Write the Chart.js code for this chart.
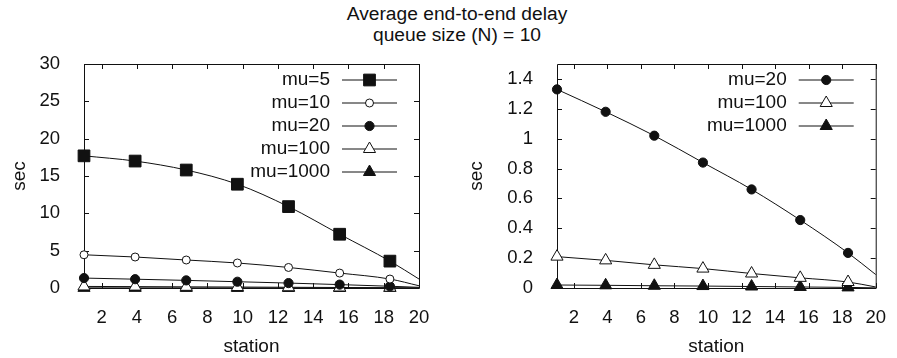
<!DOCTYPE html>
<html>
<head>
<meta charset="utf-8">
<script src="https://cdn.jsdelivr.net/npm/chart.js@4/dist/chart.umd.min.js"></script>
<style>
  html, body { margin: 0; padding: 0; background: #fff; }
  #page { position: relative; width: 897px; height: 358px; overflow: hidden;
          font-family: "Liberation Sans", Arial, sans-serif; color: #111; }
  .title { position: absolute; left: 0; width: 914px; text-align: center;
           font-size: 19.2px; line-height: 22px; white-space: nowrap; }
  #left { position: absolute; left: 0; top: 0; }
  #right { position: absolute; left: 448px; top: 0; }
</style>
</head>
<body>
<div id="page">
  <div class="title" style="top:3px">Average end-to-end delay</div>
  <div class="title" style="top:24px">queue size (N) = 10</div>
  <canvas id="left" width="448" height="358"></canvas>
  <canvas id="right" width="449" height="358"></canvas>
</div>
<script>
  // stations where the curves were sampled (last one has no marker)
  const stations = [1, 3.9, 6.8, 9.7, 12.6, 15.5, 18.35, 20];

  const mu5    = [17.7, 17.0, 15.8, 13.9, 10.9, 7.2, 3.6, 1.2];
  const mu10   = [4.45, 4.15, 3.75, 3.35, 2.75, 2.0, 1.2, 0.3];
  const mu20   = [1.33, 1.18, 1.02, 0.84, 0.66, 0.455, 0.235, 0.09];
  const mu100  = [0.21, 0.185, 0.155, 0.13, 0.097, 0.068, 0.04, 0.007];
  const mu1000 = [0.02, 0.018, 0.015, 0.013, 0.01, 0.007, 0.004, 0.001];

  const xTicks = [2, 4, 6, 8, 10, 12, 14, 16, 18, 20];
  const yTicksLeft = [0, 5, 10, 15, 20, 25, 30];
  const yTicksRight = [0, 0.2, 0.4, 0.6, 0.8, 1, 1.2, 1.4];

  const INK = '#111';
  const FAMILY = '"Liberation Sans", Arial, sans-serif';
  const TICK_FONT = { family: FAMILY, size: 18.5 };
  const LABEL_FONT = { family: FAMILY, size: 19 };

  const styles = {
    mu5:    { pointStyle: 'rect',     pointRadius: 8.3, fill: INK },
    mu10:   { pointStyle: 'circle',   pointRadius: 4,   fill: '#fff' },
    mu20:   { pointStyle: 'circle',   pointRadius: 4.6, fill: INK },
    mu100:  { pointStyle: 'triangle', pointRadius: 7,   fill: '#fff' },
    mu1000: { pointStyle: 'triangle', pointRadius: 7,   fill: INK }
  };

  function series(label, key, values) {
    const st = styles[key];
    return {
      label,
      data: stations.map((x, i) => ({ x, y: values[i] })),
      borderColor: INK,
      borderWidth: 1,
      backgroundColor: st.fill,
      pointStyle: st.pointStyle,
      pointRadius: stations.map((x, i) => (i === stations.length - 1 ? 0 : st.pointRadius)),
      pointBorderWidth: 1,
      pointBorderColor: INK,
      pointBackgroundColor: st.fill,
      cubicInterpolationMode: 'monotone',
      clip: false
    };
  }

  // gnuplot-like frame with inward ticks on all four sides
  const frame = {
    id: 'frame',
    beforeDatasetsDraw(chart) {
      const { ctx, chartArea: a, scales } = chart;
      const len = 5;
      ctx.save();
      ctx.strokeStyle = INK;
      ctx.lineWidth = 1;
      ctx.beginPath();
      ctx.rect(a.left + 0.5, a.top + 0.5, a.right - a.left, a.bottom - a.top);
      scales.x.ticks.forEach(t => {
        const px = Math.round(scales.x.getPixelForValue(t.value)) + 0.5;
        ctx.moveTo(px, a.bottom); ctx.lineTo(px, a.bottom - len);
        ctx.moveTo(px, a.top); ctx.lineTo(px, a.top + len);
      });
      scales.y.ticks.forEach(t => {
        const py = Math.round(scales.y.getPixelForValue(t.value)) + 0.5;
        ctx.moveTo(a.left, py); ctx.lineTo(a.left + len, py);
        ctx.moveTo(a.right, py); ctx.lineTo(a.right - len, py);
      });
      ctx.stroke();
      ctx.restore();
    }
  };

  // key in the top right corner: label, then a sample line with its marker
  const key = {
    id: 'key',
    afterDatasetsDraw(chart) {
      const { ctx, chartArea: a } = chart;
      ctx.save();
      ctx.font = LABEL_FONT.size + 'px ' + FAMILY;
      ctx.textAlign = 'right';
      ctx.textBaseline = 'middle';
      chart.data.datasets.forEach((ds, i) => {
        const y = a.top + 15.5 + i * 23;
        const x1 = a.right - 77, x2 = a.right - 22;
        ctx.fillStyle = INK;
        ctx.fillText(ds.label, a.right - 89, y);
        ctx.strokeStyle = INK;
        ctx.lineWidth = 1;
        ctx.beginPath();
        ctx.moveTo(x1, y + 0.5); ctx.lineTo(x2, y + 0.5);
        ctx.stroke();
        ctx.fillStyle = ds.pointBackgroundColor;
        Chart.helpers.drawPoint(ctx, {
          pointStyle: ds.pointStyle,
          radius: ds.pointRadius[0],
          rotation: 0,
          borderWidth: 1
        }, (x1 + x2) / 2, y + 0.5);
      });
      ctx.restore();
    }
  };

  function makeChart(id, datasets, yMax, yTicks, cfg) {
    return new Chart(document.getElementById(id), {
      type: 'line',
      data: { datasets },
      plugins: [frame, key],
      options: {
        responsive: false,
        animation: false,
        devicePixelRatio: 1,
        layout: { padding: { top: 64, right: cfg.right, left: 0, bottom: 0 } },
        plugins: { legend: { display: false }, tooltip: { enabled: false } },
        scales: {
          x: {
            type: 'linear',
            min: 1,
            max: 20,
            afterBuildTicks: s => { s.ticks = xTicks.map(v => ({ value: v })); },
            afterFit: s => { s.height = 70; },
            grid: { display: false },
            border: { display: false },
            ticks: { color: INK, font: TICK_FONT, padding: 11, maxRotation: 0, autoSkip: false },
            title: { display: true, text: 'station', color: INK, font: LABEL_FONT, padding: { top: 0, bottom: 0 } }
          },
          y: {
            type: 'linear',
            min: 0,
            max: yMax,
            afterBuildTicks: s => { s.ticks = yTicks.map(v => ({ value: v })); },
            afterFit: s => { s.width = cfg.yWidth; },
            grid: { display: false },
            border: { display: false },
            ticks: {
              color: INK, font: TICK_FONT, padding: 16, autoSkip: false,
              callback: v => String(Number(v.toFixed(1)))
            },
            title: { display: true, text: 'sec', color: INK, font: LABEL_FONT, padding: { top: cfg.titlePad, bottom: 0 } }
          }
        }
      }
    });
  }

  makeChart('left', [
    series('mu=5', 'mu5', mu5),
    series('mu=10', 'mu10', mu10),
    series('mu=20', 'mu20', mu20),
    series('mu=100', 'mu100', mu100),
    series('mu=1000', 'mu1000', mu1000)
  ], 30, yTicksLeft, { right: 29, yWidth: 84, titlePad: 8 });

  makeChart('right', [
    series('mu=20', 'mu20', mu20),
    series('mu=100', 'mu100', mu100),
    series('mu=1000', 'mu1000', mu1000)
  ], 1.5, yTicksRight, { right: 15, yWidth: 109, titlePad: 17 });
</script>
</body>
</html>
